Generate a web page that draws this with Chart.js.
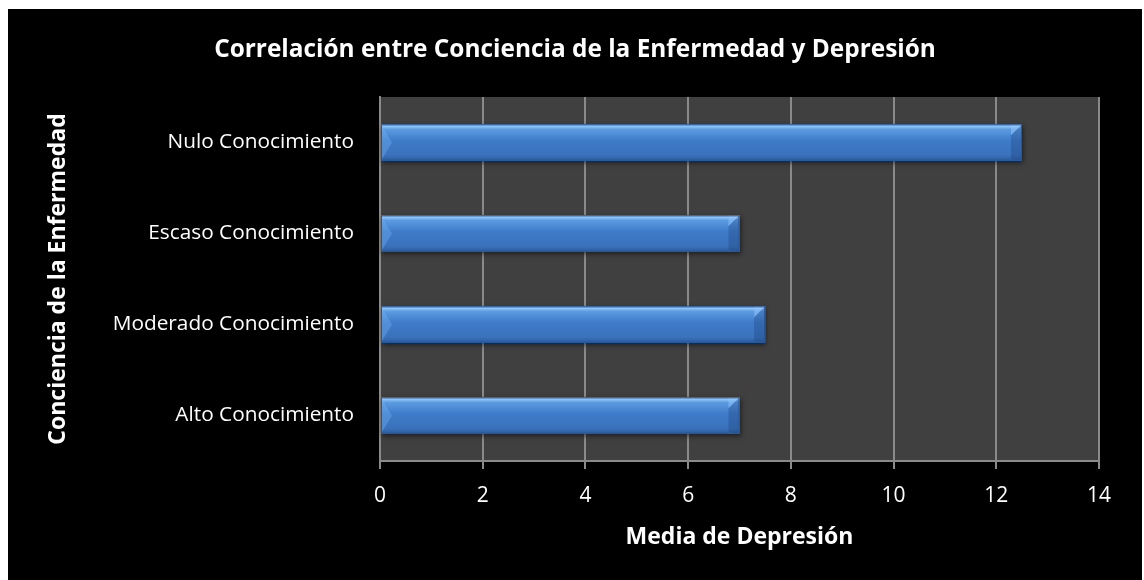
<!DOCTYPE html>
<html>
<head>
<meta charset="utf-8">
<script src="https://cdn.jsdelivr.net/npm/chart.js@4/dist/chart.umd.min.js"></script>
<style>
  html, body { margin: 0; padding: 0; background: #fff; }
  #wrap { width: 1144px; height: 580px; }
</style>
</head>
<body>
<div id="wrap"><canvas id="chart" width="1144" height="580"></canvas></div>
<script>
// Data
const categories = ['Nulo Conocimiento', 'Escaso Conocimiento', 'Moderado Conocimiento', 'Alto Conocimiento'];
const depressionMeans = [12.5, 7, 7.5, 7];
const xTickValues = [0, 2, 4, 6, 8, 10, 12, 14];

const FONT = "'Open Sans', 'Liberation Sans', sans-serif";
const GRID = '#8a8a8a';

// white frame, black card, dark plot area
const backdrop = {
    id: 'backdrop',
    beforeDraw(chart) {
        const { ctx, chartArea: a } = chart;
        ctx.save();
        ctx.fillStyle = '#fff';
        ctx.fillRect(0, 0, chart.width, chart.height);
        ctx.fillStyle = '#000';
        ctx.fillRect(8, 9, 1134, 571);
        ctx.fillStyle = '#404040';
        ctx.fillRect(a.left, a.top, a.right - a.left, a.bottom - a.top);
        ctx.restore();
    }
};

// bevelled look on top of every bar
const bevelBars = {
    id: 'bevelBars',
    beforeDatasetDraw(chart, args) {
        const ctx = chart.ctx;
        ctx.save();
        args.meta.data.forEach(bar => {
            const { x, y, base, height } = bar.getProps(['x', 'y', 'base', 'height'], true);
            ctx.shadowColor = 'rgba(0,0,0,0.55)';
            ctx.shadowBlur = 5;
            ctx.shadowOffsetX = 1;
            ctx.shadowOffsetY = 2;
            ctx.fillStyle = '#2f62a6';
            ctx.fillRect(base, y - height / 2, x - base, height);
        });
        ctx.restore();
    },
    afterDatasetDraw(chart, args) {
        const ctx = chart.ctx;
        ctx.save();
        args.meta.data.forEach(bar => {
            const { x, y, base, height } = bar.getProps(['x', 'y', 'base', 'height'], true);
            const top = y - height / 2, bottom = y + height / 2;
            const g = ctx.createLinearGradient(0, top, 0, bottom);
            g.addColorStop(0, '#6aa6ea');
            g.addColorStop(0.06, '#8cc3f8');
            g.addColorStop(0.14, '#5c9be2');
            g.addColorStop(0.45, '#3f7bc9');
            g.addColorStop(0.85, '#3a72bb');
            g.addColorStop(1, '#2c5c9a');
            ctx.fillStyle = g;
            ctx.fillRect(base, top, x - base, height);

            const bev = Math.min(11, height / 3);
            // left end: chevron facet
            ctx.fillStyle = 'rgba(120,180,245,0.35)';
            ctx.beginPath();
            ctx.moveTo(base, top);
            ctx.lineTo(base + bev, y);
            ctx.lineTo(base, bottom);
            ctx.closePath();
            ctx.fill();
            // right end: darker facet with a lit upper corner
            ctx.fillStyle = 'rgba(25,60,115,0.3)';
            ctx.beginPath();
            ctx.moveTo(x, top);
            ctx.lineTo(x - bev, top + bev);
            ctx.lineTo(x - bev, bottom - 2);
            ctx.lineTo(x, bottom);
            ctx.closePath();
            ctx.fill();
            ctx.fillStyle = 'rgba(150,200,255,0.5)';
            ctx.beginPath();
            ctx.moveTo(x, top);
            ctx.lineTo(x - bev, top + bev);
            ctx.lineTo(x - bev, top);
            ctx.closePath();
            ctx.fill();

            ctx.strokeStyle = '#2a5590';
            ctx.lineWidth = 1;
            ctx.strokeRect(base + 0.5, top + 0.5, x - base - 1, height - 1);
        });
        ctx.restore();
    }
};

new Chart(document.getElementById('chart'), {
    type: 'bar',
    data: {
        labels: categories,
        datasets: [{
            label: 'Media de Depresión',
            data: depressionMeans,
            backgroundColor: '#3f7bc9',
            borderWidth: 0,
            categoryPercentage: 1,
            barPercentage: 0.4
        }]
    },
    options: {
        indexAxis: 'y',
        responsive: false,
        animation: false,
        layout: { padding: { left: 51, right: 45, top: 0, bottom: 0 } },
        plugins: {
            legend: { display: false },
            tooltip: { enabled: false },
            title: {
                display: true,
                text: 'Correlación entre Conciencia de la Enfermedad y Depresión',
                color: '#fff',
                font: { family: FONT, size: 24.4, weight: 'bold' },
                padding: { top: 35.4, bottom: 32.3 }
            }
        },
        scales: {
            x: {
                min: 0,
                max: 14,
                afterBuildTicks: scale => { scale.ticks = xTickValues.map(v => ({ value: v })); },
                ticks: {
                    color: '#fff',
                    font: { family: FONT, size: 21 },
                    padding: 14
                },
                grid: { color: GRID, lineWidth: 2, tickLength: 8, drawTicks: true },
                border: { color: GRID, width: 2 },
                title: {
                    display: true,
                    text: 'Media de Depresión',
                    color: '#fff',
                    font: { family: FONT, size: 23, weight: 'bold' },
                    padding: { bottom: 29 }
                },
                afterFit: scale => { scale.height = 119; }
            },
            y: {
                ticks: {
                    color: '#fff',
                    font: { family: FONT, size: 20.8 },
                    padding: 26
                },
                grid: { display: false, drawTicks: false },
                border: { color: GRID, width: 2 },
                title: {
                    display: true,
                    text: 'Conciencia de la Enfermedad',
                    color: '#fff',
                    font: { family: FONT, size: 23, weight: 'bold' },
                    padding: { top: -6 }
                },
                afterFit: scale => { scale.width = 329; }
            }
        }
    },
    plugins: [backdrop, bevelBars]
});
</script>
</body>
</html>
